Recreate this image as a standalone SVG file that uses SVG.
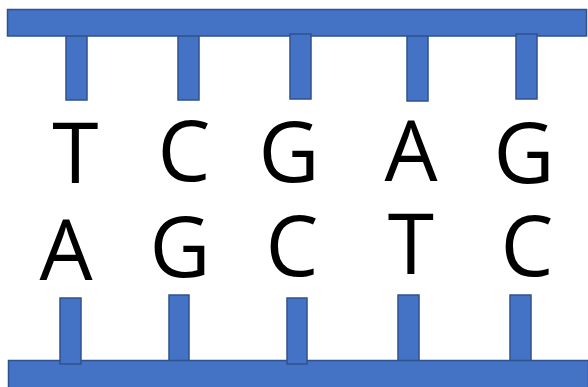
<svg xmlns="http://www.w3.org/2000/svg" width="588" height="387" viewBox="0 0 588 387">
<style>
.bar{fill:#4472C4;stroke:#2F528F;stroke-width:1.5}
.b{font-family:"Open Sans","Liberation Sans",sans-serif;font-size:84px;fill:#000;text-anchor:middle}
</style>
<rect width="588" height="387" fill="#fff"/>
<g id="top-strand">
<rect class="bar" x="66" y="35" width="21" height="65"/>
<rect class="bar" x="178" y="35" width="21" height="65"/>
<rect class="bar" x="407" y="35" width="21" height="66"/>
<rect class="bar" x="7.5" y="9.5" width="579" height="26.5"/>
<rect class="bar" x="290" y="34" width="21" height="65"/>
<rect class="bar" x="516" y="34" width="21" height="65"/>
</g>
<g id="bottom-strand">
<rect class="bar" x="169" y="295" width="20" height="67"/>
<rect class="bar" x="398" y="295" width="21" height="67"/>
<rect class="bar" x="510" y="295" width="21" height="67"/>
<rect class="bar" x="8.5" y="360.5" width="580" height="30"/>
<rect class="bar" x="60" y="298" width="21" height="66"/>
<rect class="bar" x="287" y="298" width="20" height="66"/>
</g>
<g id="top-bases">
<text class="b" x="75.5" y="183">T</text>
<text class="b" x="184" y="181">C</text>
<text class="b" x="289" y="182">G</text>
<text class="b" x="411" y="181">A</text>
<text class="b" x="524" y="183">G</text>
</g>
<g id="bottom-bases">
<text class="b" x="66" y="280">A</text>
<text class="b" x="180" y="277">G</text>
<text class="b" x="292" y="276">C</text>
<text class="b" x="411" y="274">T</text>
<text class="b" x="527" y="276">C</text>
</g>
</svg>
